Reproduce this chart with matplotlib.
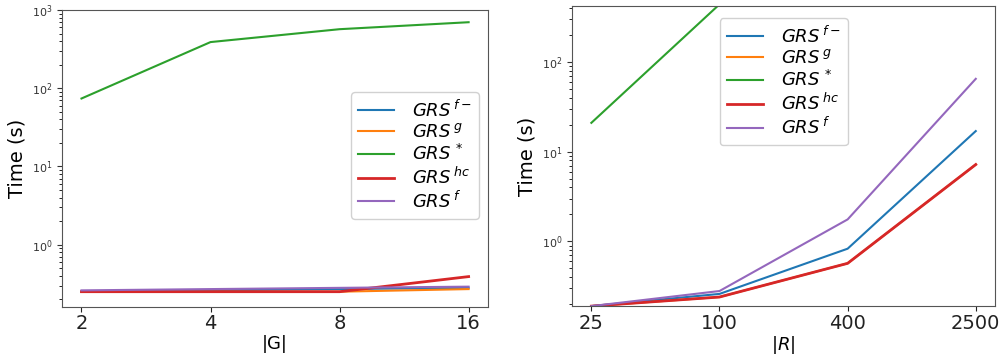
import numpy as np
import matplotlib.pyplot as plt

plt.rcParams['mathtext.fontset'] = 'dejavusans'

# left panel: time vs |G|
g_labels = ['2', '4', '8', '16']
g_f_minus = [0.25, 0.26, 0.27, 0.28]
g_g = [0.25, 0.25, 0.25, 0.27]
g_star = [74, 390, 570, 700]
g_hc = [0.25, 0.25, 0.25, 0.39]
g_f = [0.26, 0.27, 0.28, 0.29]

# right panel: time vs |R|
r_labels = ['25', '100', '400', '2500']
r_f_minus = [0.19, 0.26, 0.83, 17]
r_g = [0.19, 0.24, 0.57, 7.2]
r_star = [21, 440, np.nan, np.nan]
r_hc = [0.19, 0.24, 0.57, 7.2]
r_f = [0.19, 0.28, 1.76, 65]

labels = [r'$\it{GRS}^{\,f-}$', r'$\it{GRS}^{\,g}$', r'$\it{GRS}^{\,*}$',
          r'$\it{GRS}^{\,hc}$', r'$\it{GRS}^{\,f}$']
colors = ['#1f77b4', '#ff7f0e', '#2ca02c', '#d62728', '#9467bd']
widths = [1.5, 1.5, 1.5, 2.0, 1.5]

fig = plt.figure(figsize=(10.02, 3.61), dpi=100)
ax1 = fig.add_axes([0.062, 0.150, 0.425, 0.822])
ax2 = fig.add_axes([0.571, 0.152, 0.422, 0.831])


def draw(ax, xlabels, series, xlabel, ylim, loc, anchor):
    x = np.arange(len(xlabels))
    for vals, lab, c, w in zip(series, labels, colors, widths):
        ax.plot(x, vals, color=c, lw=w, label=lab)
    ax.set_yscale('log')
    ax.set_ylim(*ylim)
    ax.set_xticks(x)
    ax.set_xticklabels(xlabels, fontsize=14)
    ax.tick_params(axis='y', labelsize=8, colors='#333333')
    ax.tick_params(axis='x', colors='#222222', pad=2)
    ax.set_xlabel(xlabel, fontsize=13, labelpad=1)
    ax.set_ylabel('Time (s)', fontsize=14)
    for s in ax.spines.values():
        s.set_color('#555555')
    ax.legend(loc=loc, bbox_to_anchor=anchor, fontsize=13, handlelength=2.0,
              labelspacing=0.15, borderpad=0.4, handletextpad=1.0,
              framealpha=0.9)


draw(ax1, g_labels, [g_f_minus, g_g, g_star, g_hc, g_f], '|G|',
     (0.16, 1000), 'center right', (1.0, 0.51))
draw(ax2, r_labels, [r_f_minus, r_g, r_star, r_hc, r_f], r'$|R|$',
     (0.19, 420), 'upper center', (0.5, 0.99))

fig.savefig('out.png', dpi=100)
